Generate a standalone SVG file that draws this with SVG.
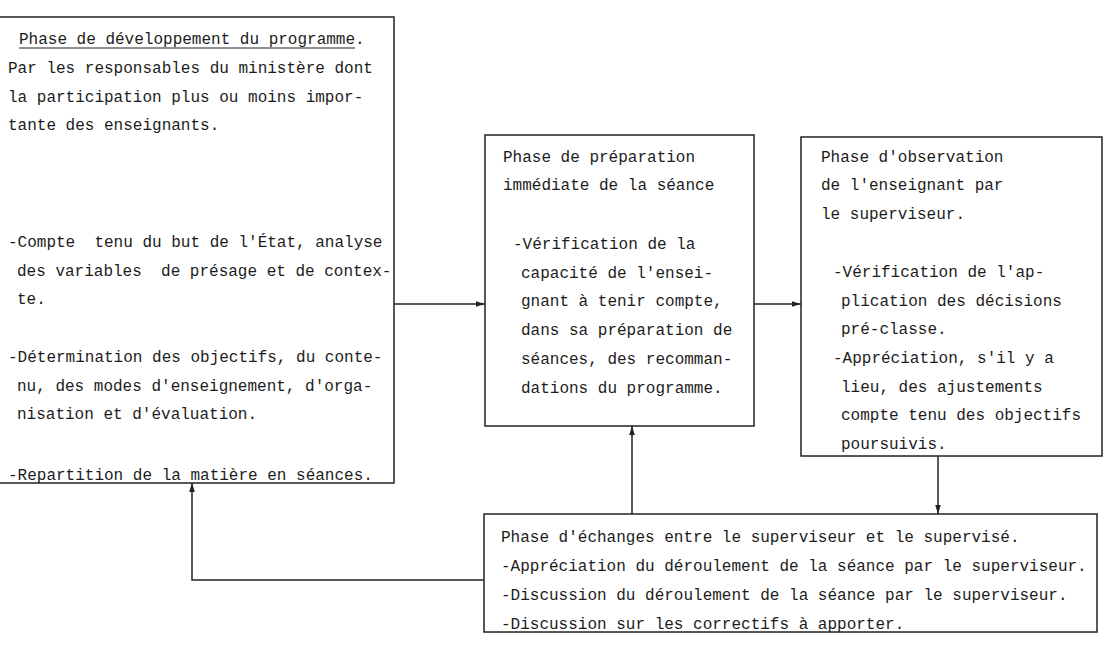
<svg xmlns="http://www.w3.org/2000/svg" width="1110" height="647" viewBox="0 0 1110 647" xml:space="preserve">
  <style>
    .box { fill: none; stroke: #222; stroke-width: 1.5; }
    .txt { font-family: "Liberation Mono", "DejaVu Sans Mono", monospace; font-size: 16px; fill: #1c1c1c; white-space: pre; }
    .link { fill: none; stroke: #222; stroke-width: 1.5; }
  </style>
  <defs>
    <marker id="arrow" markerUnits="userSpaceOnUse" markerWidth="10" markerHeight="8" refX="9" refY="4" orient="auto">
      <path d="M0,1.2 L9,4 L0,6.8 Z" fill="#222"/>
    </marker>
  </defs>
  <rect width="1110" height="647" fill="#ffffff"/>

  <!-- Programme development phase -->
  <g id="node-developpement">
    <path class="box" d="M0,17 H394 V483 H0"/>
    <text class="txt" x="19" y="44">Phase de développement du programme.</text>
    <line x1="19" y1="48" x2="355" y2="48" stroke="#222" stroke-width="1.2"/>
    <text class="txt" x="8" y="73">Par les responsables du ministère dont</text>
    <text class="txt" x="8" y="102">la participation plus ou moins impor-</text>
    <text class="txt" x="8" y="130">tante des enseignants.</text>
    <text class="txt" x="8" y="247">-Compte  tenu du but de l'État, analyse</text>
    <text class="txt" x="17" y="276">des variables  de présage et de contex-</text>
    <text class="txt" x="17" y="304">te.</text>
    <text class="txt" x="8" y="362">-Détermination des objectifs, du conte-</text>
    <text class="txt" x="17" y="391">nu, des modes d'enseignement, d'orga-</text>
    <text class="txt" x="17" y="419">nisation et d'évaluation.</text>
    <text class="txt" x="8" y="480">-Repartition de la matière en séances.</text>
  </g>

  <!-- Immediate preparation phase -->
  <g id="node-preparation">
    <rect class="box" x="485" y="135" width="269" height="291"/>
    <text class="txt" x="503" y="162">Phase de préparation</text>
    <text class="txt" x="503" y="190">immédiate de la séance</text>
    <text class="txt" x="513" y="249">-Vérification de la</text>
    <text class="txt" x="521" y="278">capacité de l'ensei-</text>
    <text class="txt" x="521" y="306">gnant à tenir compte,</text>
    <text class="txt" x="521" y="335">dans sa préparation de</text>
    <text class="txt" x="521" y="364">séances, des recomman-</text>
    <text class="txt" x="521" y="393">dations du programme.</text>
  </g>

  <!-- Observation phase -->
  <g id="node-observation">
    <rect class="box" x="801" y="137" width="301" height="319"/>
    <text class="txt" x="821" y="162">Phase d'observation</text>
    <text class="txt" x="821" y="190">de l'enseignant par</text>
    <text class="txt" x="821" y="219">le superviseur.</text>
    <text class="txt" x="833" y="277">-Vérification de l'ap-</text>
    <text class="txt" x="841" y="306">plication des décisions</text>
    <text class="txt" x="841" y="334">pré-classe.</text>
    <text class="txt" x="833" y="363">-Appréciation, s'il y a</text>
    <text class="txt" x="841" y="392">lieu, des ajustements</text>
    <text class="txt" x="841" y="420">compte tenu des objectifs</text>
    <text class="txt" x="841" y="449">poursuivis.</text>
  </g>

  <!-- Exchange phase -->
  <g id="node-echanges">
    <rect class="box" x="484" y="514" width="613" height="118"/>
    <text class="txt" x="501" y="542">Phase d'échanges entre le superviseur et le supervisé.</text>
    <text class="txt" x="501" y="571">-Appréciation du déroulement de la séance par le superviseur.</text>
    <text class="txt" x="501" y="600">-Discussion du déroulement de la séance par le superviseur.</text>
    <text class="txt" x="501" y="629">-Discussion sur les correctifs à apporter.</text>
  </g>

  <!-- Connectors -->
  <g id="connectors">
    <path class="link" d="M394,304 H485" marker-end="url(#arrow)"/>
    <path class="link" d="M754,304 H801" marker-end="url(#arrow)"/>
    <path class="link" d="M938,456 V514" marker-end="url(#arrow)"/>
    <path class="link" d="M632,514 V426" marker-end="url(#arrow)"/>
    <path class="link" d="M484,580 H192 V483" marker-end="url(#arrow)"/>
  </g>
</svg>
